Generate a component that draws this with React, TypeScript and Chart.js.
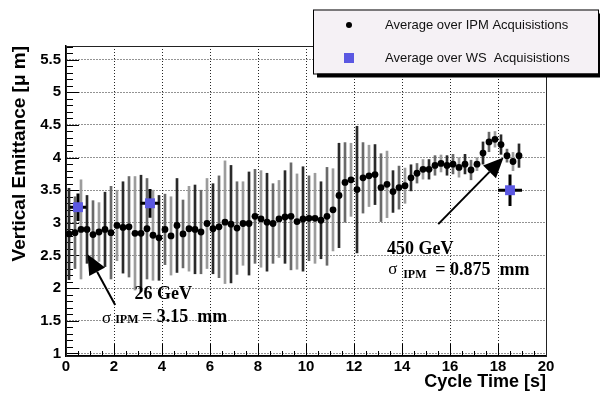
import React, { useEffect, useRef } from 'react';
import { Chart, registerables } from 'chart.js';

Chart.register(...registerables);

// ---------- data ----------
const cycleTimes = [
  0.125, 0.375, 0.625, 0.875, 1.125, 1.375, 1.625, 1.875, 2.125, 2.375,
  2.625, 2.875, 3.125, 3.375, 3.625, 3.875, 4.125, 4.375, 4.625, 4.875,
  5.125, 5.375, 5.625, 5.875, 6.125, 6.375, 6.625, 6.875, 7.125, 7.375,
  7.625, 7.875, 8.125, 8.375, 8.625, 8.875, 9.125, 9.375, 9.625, 9.875,
  10.125, 10.375, 10.625, 10.875, 11.125, 11.375, 11.625, 11.875, 12.125, 12.375,
  12.625, 12.875, 13.125, 13.375, 13.625, 13.875, 14.125, 14.375, 14.625, 14.875,
  15.125, 15.375, 15.625, 15.875, 16.125, 16.375, 16.625, 16.875, 17.125, 17.375,
  17.625, 17.875, 18.125, 18.375, 18.625, 18.875,
];

const ipmEmittance = [
  2.83, 2.85, 2.90, 2.90, 2.82, 2.86, 2.90, 2.85, 2.96, 2.93,
  2.94, 2.84, 2.84, 2.91, 2.81, 2.77, 2.90, 2.80, 2.96, 2.83,
  2.91, 2.90, 2.86, 2.99, 2.91, 2.94, 3.01, 2.98, 2.92, 2.99,
  2.99, 3.10, 3.06, 3.01, 2.99, 3.06, 3.09, 3.10, 3.02, 3.06,
  3.07, 3.07, 3.04, 3.10, 3.20, 3.42, 3.62, 3.66, 3.51, 3.69,
  3.72, 3.74, 3.54, 3.59, 3.48, 3.54, 3.57, 3.69, 3.76, 3.82,
  3.82, 3.88, 3.91, 3.88, 3.90, 3.85, 3.90, 3.81, 3.90, 4.07,
  4.24, 4.28, 4.20, 4.03, 3.94, 4.03,
];

const ipmError = [
  0.70, 0.55, 0.76, 0.52, 0.52, 0.45, 0.57, 0.71, 0.54, 0.70,
  0.77, 0.87, 0.89, 0.77, 0.69, 0.65, 0.54, 0.60, 0.72, 0.52,
  0.65, 0.68, 0.64, 0.69, 0.69, 0.78, 0.94, 0.90, 0.71, 0.64,
  0.79, 0.72, 0.74, 0.75, 0.61, 0.59, 0.71, 0.82, 0.73, 0.80,
  0.65, 0.69, 0.59, 0.75, 0.63, 0.80, 0.61, 0.56, 0.97, 0.54,
  0.47, 0.46, 0.52, 0.51, 0.32, 0.33, 0.27, 0.20, 0.15, 0.15,
  0.15, 0.15, 0.13, 0.15, 0.15, 0.15, 0.15, 0.15, 0.10, 0.17,
  0.15, 0.12, 0.15, 0.10, 0.14, 0.18,
];

const wsTimes = [0.5, 3.5, 18.5];
const wsEmittance = [3.24, 3.30, 3.50];
const wsTimeError = [0.35, 0.4, 0.5];
const wsEmittanceError = [0.21, 0.22, 0.24];

const xTickValues = [0, 2, 4, 6, 8, 10, 12, 14, 16, 18, 20];
const yTickValues = [1, 1.5, 2, 2.5, 3, 3.5, 4, 4.5, 5, 5.5];

const X_MIN = 0;
const X_MAX = 20;
const Y_MIN = 0.96;
const Y_MAX = 5.71;

const ipmLabel = 'Average over IPM Acquisistions';
const wsLabel = 'Average over WS  Acquisistions';
const xTitle = 'Cycle Time [s]';
const yTitle = 'Vertical Emittance [μ m]';

const barShades = ['#2a2a2a', '#6a6a6a', '#9c9c9c'];
const wsBlue = '#5b58e2';

// annotations in data coordinates
const arrows = [
  { from: [2.05, 1.74], to: [0.9, 2.52] },
  { from: [15.51, 2.98], to: [18.23, 4.0] },
];

const SERIF = '"Liberation Serif", "Times New Roman", serif';
const notes = [
  { t: 2.85, v: 1.84, text: '26 GeV', font: `bold 18px ${SERIF}` },
  { t: 1.5, v: 1.47, text: 'σ', font: `17px ${SERIF}` },
  { t: 2.05, v: 1.462, text: 'IPM', font: `bold 12px ${SERIF}` },
  { t: 3.17, v: 1.48, text: '= 3.15  mm', font: `bold 18px ${SERIF}` },
  { t: 13.375, v: 2.53, text: '450 GeV', font: `bold 18px ${SERIF}` },
  { t: 13.43, v: 2.21, text: 'σ', font: `17px ${SERIF}` },
  { t: 14.05, v: 2.15, text: 'IPM', font: `bold 12px ${SERIF}` },
  { t: 15.39, v: 2.2, text: '= 0.875  mm', font: `bold 18px ${SERIF}` },
];

// ---------- plugins ----------
const frameAndTicks = {
  id: 'frameAndTicks',
  beforeDatasetsDraw(chart: any) {
    const { ctx, chartArea: a, scales } = chart;
    const xs = scales.x;
    const ys = scales.y;
    ctx.save();
    ctx.strokeStyle = '#000';
    ctx.lineWidth = 1;
    ctx.beginPath();
    for (let k = Math.ceil(Y_MIN * 10); k <= Math.floor(Y_MAX * 10); k++) {
      const py = Math.round(ys.getPixelForValue(k / 10)) + 0.5;
      const major = k % 5 === 0;
      ctx.moveTo(a.left, py);
      ctx.lineTo(a.left + (major ? 13 : 7), py);
    }
    for (let k = 0; k <= (X_MAX - X_MIN) * 2; k++) {
      const px = Math.round(xs.getPixelForValue(X_MIN + k * 0.5)) + 0.5;
      const major = k % 4 === 0;
      ctx.moveTo(px, a.bottom);
      ctx.lineTo(px, a.bottom - (major ? 12 : 5));
    }
    ctx.stroke();
    ctx.strokeStyle = '#222';
    ctx.strokeRect(a.left + 0.5, a.top + 0.5, a.right - a.left, a.bottom - a.top);
    ctx.restore();
  },
};

const annotations = {
  id: 'annotations',
  afterDatasetsDraw(chart: any) {
    const { ctx, scales } = chart;
    const xs = scales.x;
    const ys = scales.y;
    ctx.save();
    ctx.fillStyle = '#000';
    ctx.strokeStyle = '#000';
    ctx.lineWidth = 2;
    arrows.forEach((ar) => {
      const x1 = xs.getPixelForValue(ar.from[0]);
      const y1 = ys.getPixelForValue(ar.from[1]);
      const x2 = xs.getPixelForValue(ar.to[0]);
      const y2 = ys.getPixelForValue(ar.to[1]);
      const ang = Math.atan2(y2 - y1, x2 - x1);
      const L = 20;
      const W = 9;
      const bx = x2 - L * Math.cos(ang);
      const by = y2 - L * Math.sin(ang);
      ctx.beginPath();
      ctx.moveTo(x1, y1);
      ctx.lineTo(bx, by);
      ctx.stroke();
      ctx.beginPath();
      ctx.moveTo(x2, y2);
      ctx.lineTo(bx + W * Math.sin(ang), by - W * Math.cos(ang));
      ctx.lineTo(bx - W * Math.sin(ang), by + W * Math.cos(ang));
      ctx.closePath();
      ctx.fill();
    });
    ctx.textAlign = 'left';
    ctx.textBaseline = 'alphabetic';
    notes.forEach((n) => {
      ctx.font = n.font;
      ctx.fillText(n.text, xs.getPixelForValue(n.t), ys.getPixelForValue(n.v));
    });
    ctx.restore();
  },
};

const boxLegend = {
  id: 'boxLegend',
  afterDraw(chart: any) {
    const { ctx } = chart;
    const bx = 313;
    const by = 9.5;
    const bw = 285;
    const bh = 64;
    ctx.save();
    ctx.fillStyle = '#000';
    ctx.fillRect(bx + 4, by + 4, bw, bh);
    ctx.fillStyle = '#f5f1f5';
    ctx.fillRect(bx, by, bw, bh);
    ctx.strokeStyle = '#000';
    ctx.lineWidth = 1;
    ctx.strokeRect(bx + 0.5, by + 0.5, bw, bh);
    const ds = chart.data.datasets;
    ctx.fillStyle = '#000';
    ctx.beginPath();
    ctx.arc(349, 25, 3, 0, Math.PI * 2);
    ctx.fill();
    ctx.fillStyle = wsBlue;
    ctx.fillRect(344, 53, 10, 10);
    ctx.fillStyle = '#111';
    ctx.font = '13px "Liberation Sans", Arial, sans-serif';
    ctx.textAlign = 'left';
    ctx.textBaseline = 'middle';
    ctx.fillText(ds[0].label, 385, 25);
    ctx.fillText(ds[1].label, 385, 58);
    ctx.restore();
  },
};

// ---------- component ----------
export default function App() {
  const canvasRef = useRef<HTMLCanvasElement | null>(null);

  useEffect(() => {
    document.body.style.margin = '0';
    const canvas = canvasRef.current;
    if (!canvas) return;

    const wsBars: any[] = [];
    wsTimes.forEach((t, i) => {
      wsBars.push({ x: t - wsTimeError[i], y: wsEmittance[i] });
      wsBars.push({ x: t + wsTimeError[i], y: wsEmittance[i] });
      wsBars.push({ x: t, y: null });
      wsBars.push({ x: t, y: wsEmittance[i] - wsEmittanceError[i] });
      wsBars.push({ x: t, y: wsEmittance[i] + wsEmittanceError[i] });
      wsBars.push({ x: t, y: null });
    });

    const tickFont = { family: '"Liberation Sans", Arial, sans-serif', size: 15, weight: 'bold' as const };
    const xTitleFont = { family: '"Liberation Sans", Arial, sans-serif', size: 18, weight: 'bold' as const };
    const yTitleFont = { family: '"Liberation Sans", Arial, sans-serif', size: 19, weight: 'bold' as const };

    const chart = new Chart(canvas, {
      type: 'scatter',
      data: {
        datasets: [
          {
            type: 'scatter',
            label: ipmLabel,
            data: cycleTimes.map((t, i) => ({ x: t, y: ipmEmittance[i] })),
            backgroundColor: '#000',
            borderWidth: 0,
            pointRadius: 3.4,
            pointStyle: 'circle',
            order: 0,
          },
          {
            type: 'scatter',
            label: wsLabel,
            data: wsTimes.map((t, i) => ({ x: t, y: wsEmittance[i] })),
            backgroundColor: wsBlue,
            borderWidth: 0,
            pointRadius: 7,
            pointStyle: 'rect',
            order: 1,
          },
          {
            type: 'line',
            label: 'WS errors',
            data: wsBars,
            borderColor: '#000',
            borderWidth: 3,
            pointRadius: 0,
            spanGaps: false,
            order: 2,
          } as any,
          {
            type: 'bar',
            label: 'IPM errors',
            data: cycleTimes.map((t, i) => ({
              x: t,
              y: [ipmEmittance[i] - ipmError[i], ipmEmittance[i] + ipmError[i]],
            })),
            backgroundColor: cycleTimes.map((_, i) => barShades[i % barShades.length]),
            borderWidth: 0,
            grouped: false,
            barThickness: 2,
            maxBarThickness: 2,
            order: 3,
          } as any,
        ],
      },
      options: {
        responsive: false,
        animation: false,
        layout: { padding: { top: 46, right: 54, left: 0, bottom: 0 } },
        plugins: {
          legend: { display: false },
          tooltip: { enabled: false },
        },
        scales: {
          x: {
            type: 'linear',
            min: X_MIN,
            max: X_MAX,
            offset: false,
            afterBuildTicks: (s: any) => {
              s.ticks = xTickValues.map((v) => ({ value: v }));
            },
            afterFit: (s: any) => {
              s.height = 37;
            },
            ticks: { font: tickFont, color: '#000', padding: 2, maxRotation: 0, autoSkip: false, callback: (v: any) => String(v) },
            grid: { offset: false, drawTicks: false, color: 'rgba(0,0,0,0.85)', lineWidth: 1 },
            border: { display: true, color: '#000', width: 1.5, dash: [1, 2] },
            title: { display: true, text: xTitle, align: 'end', font: xTitleFont, color: '#000', padding: { top: 0, bottom: 0 } },
          },
          y: {
            type: 'linear',
            min: Y_MIN,
            max: Y_MAX,
            afterBuildTicks: (s: any) => {
              s.ticks = yTickValues.map((v) => ({ value: v }));
            },
            afterFit: (s: any) => {
              s.width = 66;
            },
            ticks: { font: tickFont, color: '#000', padding: 5, autoSkip: false, callback: (v: any) => String(v) },
            grid: { drawTicks: false, color: 'rgba(0,0,0,0.85)', lineWidth: 1 },
            border: { display: true, color: '#000', width: 1.5, dash: [1, 2] },
            title: { display: true, text: yTitle, align: 'end', font: yTitleFont, color: '#000', padding: { top: 8, bottom: 0 } },
          },
        },
      } as any,
      plugins: [frameAndTicks, annotations, boxLegend],
    });

    return () => {
      chart.destroy();
    };
  }, []);

  return (
    <div style={{ position: 'fixed', left: 0, top: 0, width: 600, height: 393, background: '#fff' }}>
      <canvas ref={canvasRef} width={600} height={393} style={{ display: 'block' }} />
    </div>
  );
}
